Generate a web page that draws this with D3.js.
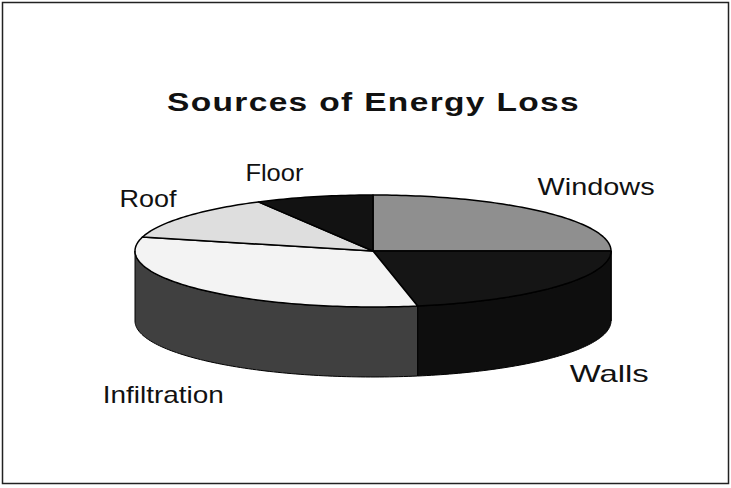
<!DOCTYPE html>
<html>
<head>
<meta charset="utf-8">
<script src="https://cdn.jsdelivr.net/npm/d3@7/dist/d3.min.js"></script>
<style>
  body { margin: 0; background: #fff; }
  text { font-family: "Liberation Sans", Arial, sans-serif; fill: #111; }
</style>
</head>
<body>
<script>
// data
var categories = ["Windows", "Walls", "Infiltration", "Roof", "Floor"];
var values = [25, 22, 32, 13, 8];
var title = "Sources of Energy Loss";

var topColors = ["#8f8f8f", "#151515", "#f3f3f3", "#dedede", "#121212"];
var sideColors = ["#6e6e6e", "#0e0e0e", "#404040", "#a5a5a5", "#0b0b0b"];

// label tweaks (layout only)
var labelNudge = {
  Windows: [11, -2], Walls: [5, -2], Infiltration: [9, 14], Roof: [12, 1], Floor: [-24, 6]
};
var labelWidth = { Windows: 117, Walls: 79, Infiltration: 121, Roof: 57, Floor: 58 };

var width = 731, height = 488;
var cx = 373, cy = 251, rx = 238, ry = 56, depth = 70;

var svg = d3.select("body").append("svg")
    .attr("width", width)
    .attr("height", height);

svg.append("rect")
    .attr("x", 2.5).attr("y", 2.5)
    .attr("width", 726).attr("height", 481)
    .attr("fill", "none")
    .attr("stroke", "#222")
    .attr("stroke-width", 1.5);

svg.append("text")
    .attr("x", 167)
    .attr("y", 111)
    .attr("textLength", 413)
    .attr("lengthAdjust", "spacingAndGlyphs")
    .style("font-size", "25px")
    .style("font-weight", "bold")
    .style("letter-spacing", "1px")
    .text(title);

var pie = d3.pie().sort(null).value(function(d) { return d; });
var arcs = pie(values);

function pt(a, dy) {
  return [cx + rx * Math.sin(a), cy - ry * Math.cos(a) + (dy || 0)];
}

function rim(a0, a1, dy) {
  var n = Math.max(2, Math.ceil((a1 - a0) / 0.02));
  return d3.range(n + 1).map(function(i) { return pt(a0 + (a1 - a0) * i / n, dy); });
}

var line = d3.line();

// side walls (only the front half is visible)
var sides = svg.append("g");
arcs.forEach(function(d, i) {
  var s = Math.max(d.startAngle, Math.PI / 2),
      e = Math.min(d.endAngle, 3 * Math.PI / 2);
  if (e <= s) return;
  var pts = rim(s, e, 0).concat(rim(s, e, depth).reverse());
  sides.append("path")
      .attr("d", line(pts) + "Z")
      .attr("fill", sideColors[i])
      .attr("stroke", "#000")
      .attr("stroke-width", 1)
      .attr("stroke-linejoin", "round");
});

// top faces
var tops = svg.append("g");
arcs.forEach(function(d, i) {
  var pts = [[cx, cy]].concat(rim(d.startAngle, d.endAngle, 0));
  tops.append("path")
      .attr("d", line(pts) + "Z")
      .attr("fill", topColors[i])
      .attr("stroke", "#000")
      .attr("stroke-width", 1.5)
      .attr("stroke-linejoin", "round");
});

// labels
var lrx = 300, lry = 87;
arcs.forEach(function(d, i) {
  var name = categories[i];
  var a = (d.startAngle + d.endAngle) / 2;
  var x = cx + lrx * Math.sin(a),
      y = cy - lry * Math.cos(a) + (Math.cos(a) < 0 ? depth : 0);
  var nd = labelNudge[name];
  var w = labelWidth[name];
  svg.append("text")
      .attr("x", x + nd[0] - w / 2)
      .attr("y", y + nd[1] + 8)
      .attr("textLength", w)
      .attr("lengthAdjust", "spacingAndGlyphs")
      .style("font-size", "24px")
      .text(name);
});
</script>
</body>
</html>
